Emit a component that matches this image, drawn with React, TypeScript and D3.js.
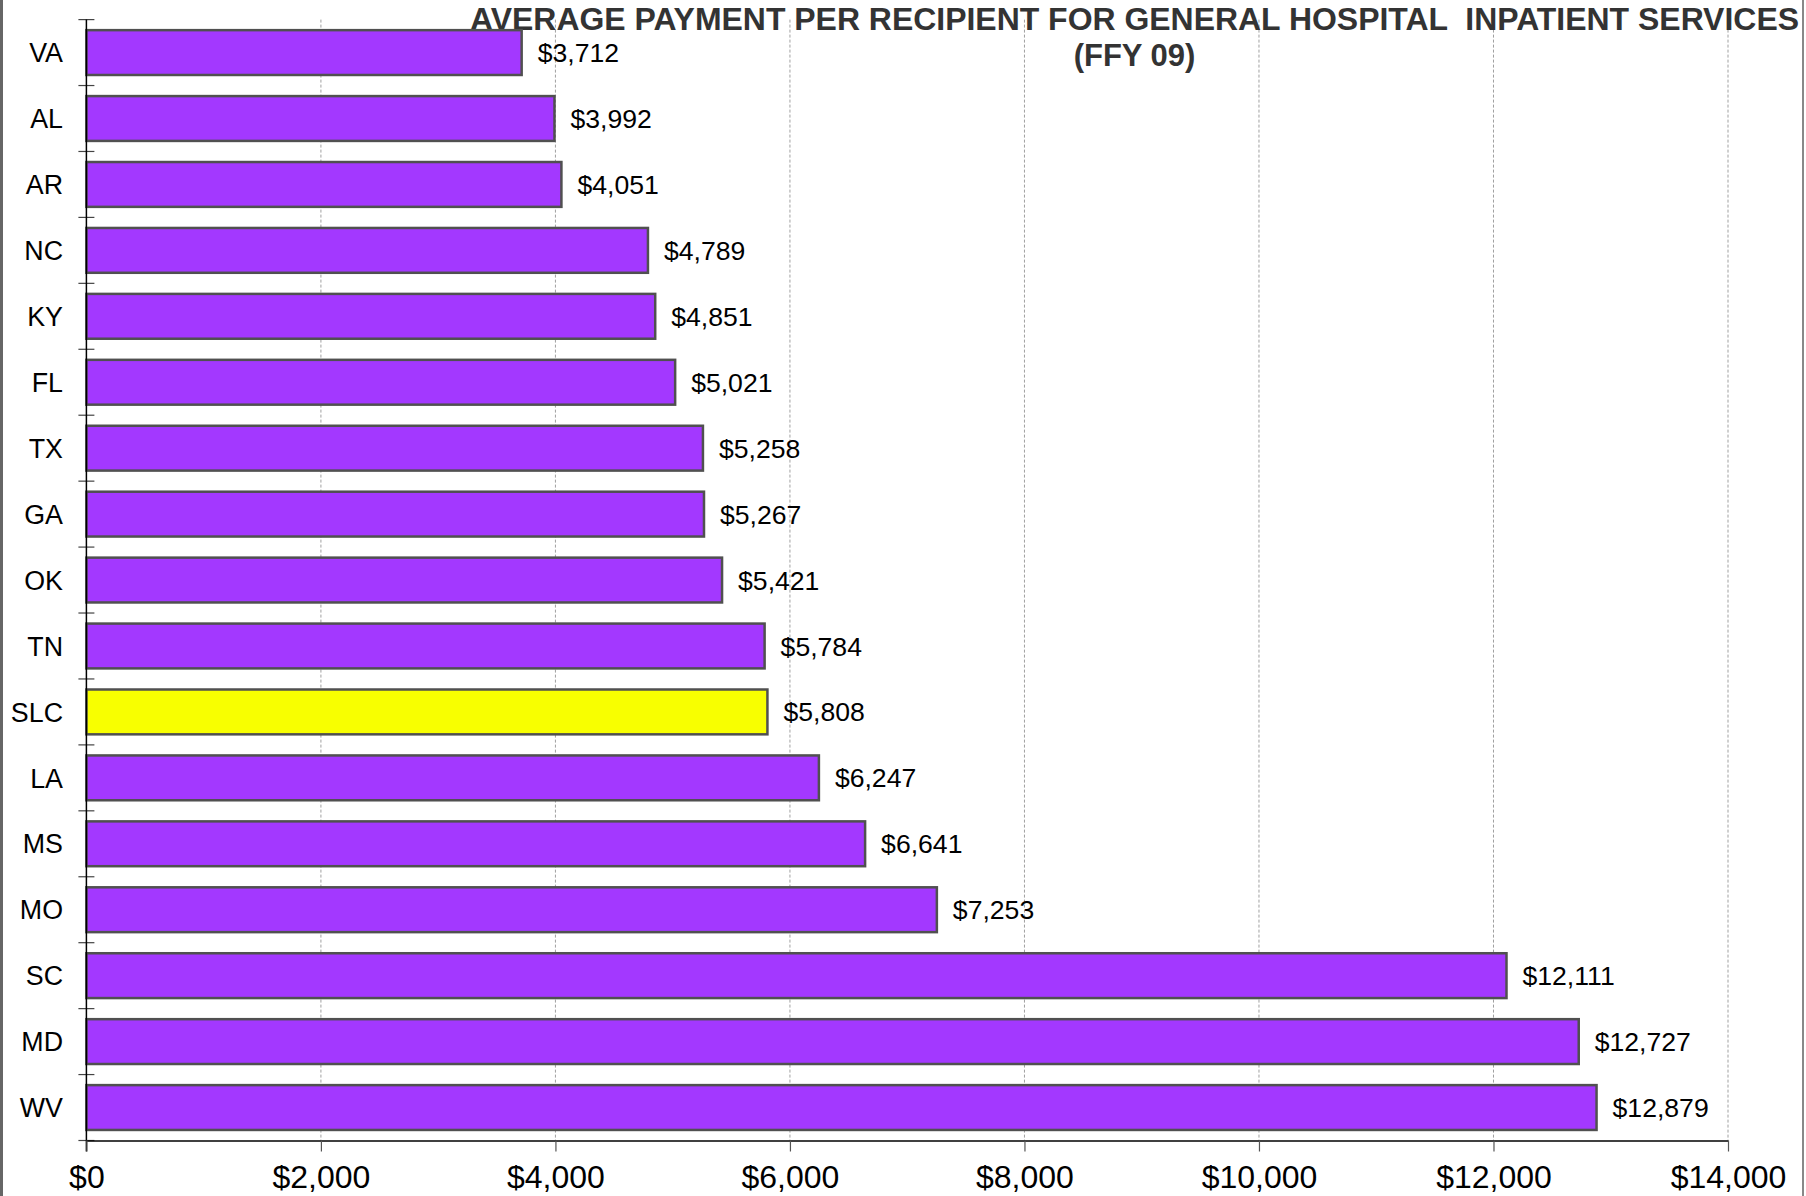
import React, { useEffect, useRef } from 'react'
import * as d3 from 'd3'

// states sorted by payment, SLC is the regional average
const states = ['VA', 'AL', 'AR', 'NC', 'KY', 'FL', 'TX', 'GA', 'OK', 'TN', 'SLC', 'LA', 'MS', 'MO', 'SC', 'MD', 'WV']
const payments = [3712, 3992, 4051, 4789, 4851, 5021, 5258, 5267, 5421, 5784, 5808, 6247, 6641, 7253, 12111, 12727, 12879]
const xTicks = [0, 2000, 4000, 6000, 8000, 10000, 12000, 14000]
const highlighted = 'SLC'
const titleLine1 = 'AVERAGE PAYMENT PER RECIPIENT FOR GENERAL HOSPITAL  INPATIENT SERVICES'
const titleLine2 = '(FFY 09)'

const W = 1806
const H = 1196
const font = '"Liberation Sans", Arial, sans-serif'

export default function App() {
	const ref = useRef<SVGSVGElement>(null)

	useEffect(() => {
		document.body.style.margin = '0'
		const svg = d3.select(ref.current)
		svg.selectAll('*').remove()

		const left = 86.4
		const right = 1728
		const top = 19.6
		const bottom = 1140.5

		const x = d3.scaleLinear().domain([0, 14000]).range([left, right])
		const y = d3.scaleBand().domain(states).range([top, bottom]).paddingInner(0.32).paddingOuter(0.16)
		const step = y.step()

		const data = states.map((s, i) => ({ name: s, value: payments[i] }))

		// frame lines left and right
		svg.append('line').attr('x1', 1.5).attr('x2', 1.5).attr('y1', 0).attr('y2', H).attr('stroke', '#666').attr('stroke-width', 3)
		svg.append('line').attr('x1', 1803).attr('x2', 1803).attr('y1', 0).attr('y2', H).attr('stroke', '#888').attr('stroke-width', 2)

		// gridlines
		svg.append('g')
			.selectAll('line')
			.data(xTicks.slice(1))
			.join('line')
			.attr('x1', d => x(d))
			.attr('x2', d => x(d))
			.attr('y1', top)
			.attr('y2', bottom)
			.attr('stroke', '#a0a0a0')
			.attr('stroke-width', 1)
			.attr('stroke-dasharray', '3,2')

		// title
		svg.append('text')
			.attr('x', 470)
			.attr('y', 29.5)
			.attr('textLength', 1329)
			.attr('lengthAdjust', 'spacingAndGlyphs')
			.attr('font-family', font)
			.attr('font-weight', 'bold')
			.attr('font-size', 31)
			.attr('fill', '#333')
			.attr('xml:space', 'preserve')
			.text(titleLine1)
		svg.append('text')
			.attr('x', 1134.5)
			.attr('y', 66)
			.attr('text-anchor', 'middle')
			.attr('font-family', font)
			.attr('font-weight', 'bold')
			.attr('font-size', 31)
			.attr('fill', '#333')
			.text(titleLine2)

		// bars
		svg.append('g')
			.selectAll('rect')
			.data(data)
			.join('rect')
			.attr('x', x(0))
			.attr('y', d => y(d.name)!)
			.attr('width', d => x(d.value) - x(0))
			.attr('height', y.bandwidth())
			.attr('fill', d => (d.name === highlighted ? '#f8ff00' : '#a338ff'))
			.attr('stroke', '#505050')
			.attr('stroke-width', 2.5)

		// value labels
		svg.append('g')
			.selectAll('text')
			.data(data)
			.join('text')
			.attr('x', d => x(d.value) + 16)
			.attr('y', d => y(d.name)! + y.bandwidth() / 2)
			.attr('dy', '0.36em')
			.attr('font-family', font)
			.attr('font-size', 26.6)
			.attr('fill', '#000')
			.text(d => d3.format('$,')(d.value))

		// category labels
		svg.append('g')
			.selectAll('text')
			.data(data)
			.join('text')
			.attr('x', 63)
			.attr('y', d => y(d.name)! + y.bandwidth() / 2)
			.attr('dy', '0.36em')
			.attr('text-anchor', 'end')
			.attr('font-family', font)
			.attr('font-size', 26.8)
			.attr('fill', '#000')
			.text(d => d.name)

		// y axis with ticks on band boundaries
		const boundaries = d3.range(states.length + 1).map(i => top + i * step)
		svg.append('g')
			.selectAll('line')
			.data(boundaries)
			.join('line')
			.attr('x1', left - 8)
			.attr('x2', left + 8)
			.attr('y1', d => d)
			.attr('y2', d => d)
			.attr('stroke', '#444')
			.attr('stroke-width', 1.2)
		svg.append('line').attr('x1', left).attr('x2', left).attr('y1', top).attr('y2', bottom + 11).attr('stroke', '#000').attr('stroke-width', 1.5)

		// x axis
		const xAxis = d3.axisBottom(x).tickValues(xTicks).tickSize(11).tickSizeOuter(0).tickPadding(14).tickFormat(d => d3.format('$,')(+d))
		const gx = svg.append('g').attr('transform', `translate(0,${bottom})`).call(xAxis)
		gx.select('.domain').attr('stroke', '#000').attr('stroke-width', 1.5)
		gx.selectAll('.tick line').attr('stroke', '#555').attr('stroke-width', 1.2)
		gx.selectAll('.tick text').attr('font-family', font).attr('font-size', 32).attr('fill', '#000')
	}, [])

	return <svg ref={ref} width={W} height={H} style={{ display: 'block', background: '#fff' }} />
}
